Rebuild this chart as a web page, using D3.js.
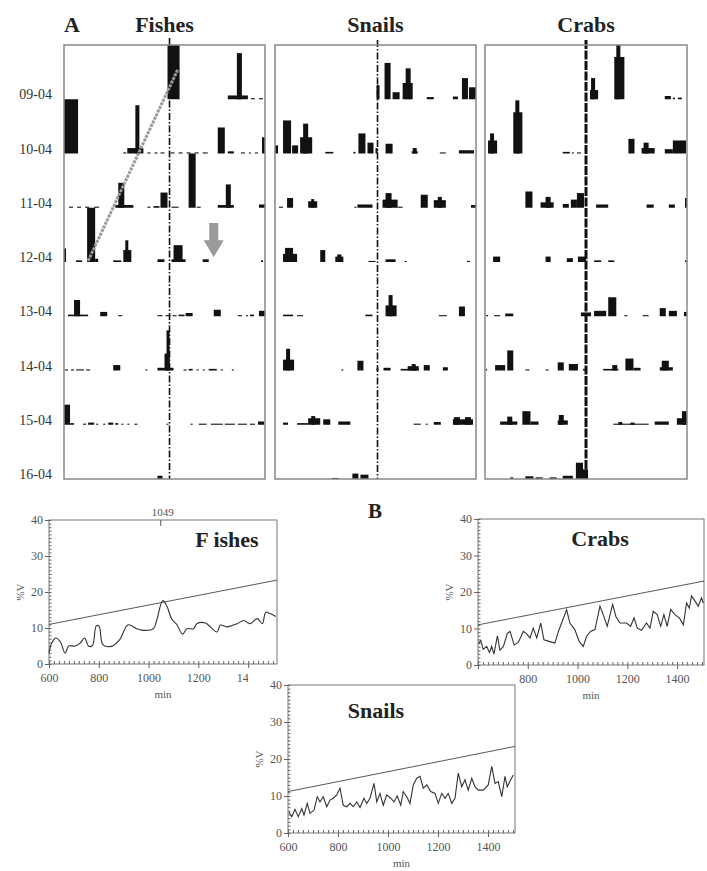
<!DOCTYPE html>
<html>
<head>
<meta charset="utf-8">
<script src="https://cdn.jsdelivr.net/npm/d3@7"></script>
<style>
  body { margin: 0; background: #fff; }
  svg { display: block; font-family: "Liberation Serif", "DejaVu Serif", serif; }
</style>
</head>
<body>
<div id="chart"></div>
<script>
// ---- panel A: actograms, one row per day, bars as [fromBin, toBin, height(0..1)]
const days = ["09-04", "10-04", "11-04", "12-04", "13-04", "14-04", "15-04", "16-04"];

const fishAct = [
  [[51.5, 57.5, 1], [81.5, 91.5, 0.07], [86, 88.5, 0.85], [93, 95, 0.02], [97, 99, 0.02]],
  [[0, 7, 1], [29.5, 31, 0.02], [31.5, 39.5, 0.1], [35.5, 37.5, 0.89], [41.5, 43, 0.02], [45, 46.5, 0.02], [48, 50, 0.02],
   [53, 55, 0.02], [57, 59, 0.02], [61, 63, 0.02], [65, 67, 0.02], [69, 71.5, 0.02], [76.5, 80, 0.48], [81.5, 84.5, 0.04],
   [88, 90, 0.02], [92, 93, 0.02], [95, 96.5, 0.02], [98.5, 100.5, 0.3]],
  [[2.5, 4.5, 0.02], [6.5, 8.5, 0.02], [10.5, 12.5, 0.02], [15, 17.5, 0.02], [25.5, 34.5, 0.05], [27, 30, 0.46],
   [41.5, 43, 0.02], [44.5, 47.5, 0.03], [48, 51.5, 0.28], [53.5, 57, 0.02], [62, 65.5, 1], [66, 68, 0.02],
   [76.5, 84.5, 0.05], [80.5, 83, 0.43], [97, 100.5, 0.06]],
  [[0, 1, 0.25], [6, 9, 0.03], [11.5, 15.5, 1], [15.5, 17, 0.06], [24.5, 28.5, 0.03], [29.5, 33.5, 0.22], [30.5, 32, 0.4],
   [46.5, 50, 0.05], [53.5, 60.5, 0.05], [54.5, 59, 0.31], [69, 72, 0.05], [98, 99, 0.03]],
  [[2, 12, 0.03], [5, 8, 0.3], [18, 21.5, 0.08], [27, 29, 0.02], [46.5, 49, 0.02], [50.5, 53, 0.02], [54, 56, 0.02],
   [57, 60, 0.03], [60.5, 64, 0.06], [74.5, 78, 0.12], [86.5, 88.5, 0.02], [90.5, 91.5, 0.02], [92.5, 94.5, 0.03],
   [97, 100.5, 0.1]],
  [[0.5, 2, 0.02], [3.5, 5, 0.02], [6, 10, 0.02], [11, 13, 0.02], [24.5, 28, 0.1], [40.5, 41.5, 0.02],
   [46.5, 54.5, 0.05], [50, 52.5, 0.31], [51, 52.5, 0.74], [59.5, 61, 0.02], [62, 64, 0.03], [66, 67, 0.02],
   [69, 70, 0.02], [72, 76, 0.03], [78, 79, 0.02], [83.5, 84.5, 0.02]],
  [[0, 3, 0.37], [3, 5, 0.03], [9.5, 11, 0.02], [12, 15, 0.04], [16, 17, 0.02], [19.5, 20.5, 0.02], [22, 24.5, 0.04],
   [25.5, 27, 0.03], [28.5, 29.5, 0.02], [31.5, 32.5, 0.02], [35, 36.5, 0.02], [51, 52, 0.02], [63, 64, 0.02],
   [67, 71, 0.02], [73, 79, 0.02], [80, 85, 0.02], [86.5, 91, 0.02], [92.5, 95, 0.02], [96.5, 99.5, 0.06]],
  [[46.5, 49, 0.06]]
];

const snailAct = [
  [[50.5, 52, 0.26], [54.5, 57.5, 0.67], [58.5, 62, 0.13], [63.5, 68.5, 0.3], [65, 67.5, 0.57], [75.5, 79, 0.04],
   [88.5, 91, 0.05], [93, 96, 0.39], [96.5, 100, 0.22]],
  [[0, 1.5, 0.15], [4, 8, 0.61], [8.5, 11.5, 0.15], [12.5, 18.5, 0.3], [14, 16.5, 0.55], [25, 29, 0.03], [39, 40, 0.03],
   [41.5, 45, 0.37], [46, 49, 0.2], [50, 51, 0.1], [55, 58.5, 0.18], [68, 71, 0.04], [68.5, 70.5, 0.1],
   [82, 85, 0.02], [91.5, 99, 0.06]],
  [[2, 4, 0.02], [6, 9, 0.18], [16.5, 21, 0.12], [18, 19.5, 0.16], [39.5, 40.5, 0.02], [41, 48.5, 0.06],
   [53.5, 61, 0.15], [55, 58, 0.27], [61, 63.5, 0.02], [72.5, 76, 0.24], [79, 85, 0.14], [81, 83, 0.2], [97.5, 100, 0.05]],
  [[4, 11, 0.15], [5, 9, 0.26], [22.5, 25, 0.22], [30, 34, 0.1], [31, 33, 0.14], [46.5, 50, 0.02], [55, 60, 0.05],
   [64.5, 65.5, 0.02], [95.5, 97, 0.02]],
  [[4, 9, 0.03], [11, 14, 0.02], [45, 48.5, 0.03], [55, 60.5, 0.2], [56.5, 58.5, 0.39], [81.5, 85.5, 0.02], [91.5, 94.5, 0.18]],
  [[4, 9.5, 0.2], [5.5, 7.5, 0.4], [33, 34, 0.02], [41, 44, 0.18], [50.5, 51.5, 0.04], [54, 57.5, 0.05],
   [62.5, 71.5, 0.03], [66, 71.5, 0.08], [68, 70, 0.12], [74, 77, 0.1], [83.5, 86, 0.06]],
  [[4, 6.5, 0.04], [11, 16.5, 0.03], [16.5, 22.5, 0.12], [18, 20, 0.16], [24, 27.5, 0.1], [31.5, 37.5, 0.06],
   [69, 72.5, 0.02], [75, 76, 0.02], [79, 82.5, 0.05], [88.5, 98.5, 0.1], [89, 92, 0.14], [94.5, 97.5, 0.14]],
  [[28.5, 31.5, 0.02], [38.5, 41.5, 0.1], [42.5, 46.5, 0.08]]
];

const crabAct = [
  [[52, 56, 0.17], [52.5, 54.5, 0.39], [64, 69, 0.78], [65, 67, 1], [89, 92, 0.06], [93, 94, 0.03], [95.5, 97.5, 0.03]],
  [[1.5, 6, 0.24], [2.5, 4.5, 0.37], [14, 18.5, 0.76], [15, 17, 0.98], [38.5, 42, 0.03], [43, 44, 0.02], [45.5, 47.5, 0.02],
   [71, 74, 0.27], [77.5, 84, 0.1], [78.5, 81, 0.2], [89, 93, 0.08], [93, 99.5, 0.24]],
  [[20, 23.5, 0.3], [27.5, 34, 0.1], [30, 32.5, 0.2], [38.5, 41.5, 0.07], [42.5, 45.5, 0.15], [45.5, 49, 0.27],
   [55, 61, 0.06], [80, 83.5, 0.06], [91, 94, 0.06], [99, 101, 0.18]],
  [[4, 7.5, 0.1], [30, 32.5, 0.1], [40.5, 43.5, 0.07], [46, 50, 0.1], [54, 57.5, 0.03], [61, 64, 0.03], [99, 100, 0.03]],
  [[0.5, 1.5, 0.02], [4.5, 7.5, 0.02], [10, 14, 0.05], [47.5, 52.5, 0.07], [54, 60, 0.1], [61, 65, 0.35],
   [69, 70.5, 0.02], [78, 81, 0.02], [86.5, 89.5, 0.15], [91, 95, 0.1], [98.5, 101, 0.08]],
  [[0.5, 1, 0.03], [5, 10, 0.1], [11, 14, 0.37], [20, 22, 0.02], [30, 31.5, 0.02], [36, 39, 0.15], [41.5, 46, 0.12],
   [48.5, 50.5, 0.03], [58.5, 66, 0.03], [63, 65.5, 0.1], [69.5, 73.5, 0.22], [73.5, 77, 0.05], [86.5, 93, 0.06],
   [87.5, 91, 0.18]],
  [[7.5, 16, 0.06], [11, 13.5, 0.15], [18.5, 22.5, 0.25], [22.5, 26.5, 0.06], [36, 41, 0.08], [36.5, 39, 0.18],
   [63.5, 81, 0.02], [66, 68, 0.05], [72, 74, 0.04], [84, 91, 0.06], [95, 100, 0.12], [97.5, 100, 0.25]],
  [[12.5, 14, 0.03], [20, 24, 0.05], [25, 28.5, 0.03], [32, 35.5, 0.03], [38.5, 43.5, 0.06], [45, 48.5, 0.3],
   [48.5, 51, 0.18]]
];

// bin of the vertical dash-dot marker in each actogram
const markBins = [52.5, 51, 50];

// ---- panel B: %V against time (min), plus the threshold line
const fishPct = [[600, 3.0], [611, 5.8], [627, 7.2], [645, 6.2], [665, 3.0], [679, 5.0], [705, 5.0], [725, 5.8],
  [743, 7.2], [760, 4.9], [775, 5.2], [790, 10.6], [801, 10.5], [817, 5.3], [850, 4.9], [884, 6.8], [918, 10.9],
  [952, 9.8], [972, 9.4], [1019, 9.8], [1032, 12], [1057, 17.6], [1073, 16.2], [1093, 12.5], [1113, 11],
  [1137, 8.3], [1154, 9.8], [1181, 9.8], [1194, 11.2], [1228, 11.4], [1275, 8.9], [1288, 10.8], [1315, 10.3],
  [1356, 11.2], [1383, 12.1], [1407, 11.2], [1437, 12.6], [1457, 11.2], [1471, 14.4], [1488, 14], [1511, 13.2]];

const crabPct = [[603, 6.0], [611, 6.7], [621, 4.3], [635, 5.1], [646, 3.4], [655, 5.1], [664, 3.0], [678, 8.0],
  [688, 4.1], [702, 5.1], [718, 8.7], [729, 9.2], [745, 5.5], [762, 6.2], [782, 9.2], [795, 8.6], [809, 7.4],
  [822, 10.1], [836, 7.4], [852, 11.5], [865, 6.9], [889, 6.4], [909, 6.0], [923, 9.2], [936, 11.5], [956, 15.2],
  [969, 11.5], [989, 9.7], [1007, 6.4], [1023, 5.1], [1036, 7.8], [1052, 9.2], [1070, 9.7], [1090, 16.1],
  [1103, 13.8], [1119, 10.6], [1141, 16.6], [1154, 13.3], [1170, 11.5], [1197, 11.5], [1213, 10.6], [1227, 12.9],
  [1240, 10.1], [1257, 9.5], [1277, 11.5], [1291, 10.1], [1304, 14.7], [1320, 13.8], [1334, 10.6], [1347, 13.8],
  [1360, 10.6], [1374, 15.2], [1391, 13.8], [1409, 12.9], [1425, 11.0], [1438, 17.0], [1449, 15.6], [1458, 18.9],
  [1472, 17.5], [1485, 16.1], [1498, 18.4], [1505, 17.0]];

const snailPct = [[604, 5.7], [615, 4.4], [628, 6.4], [641, 4.4], [655, 6.6], [664, 4.8], [677, 8.0], [688, 5.3],
  [704, 6.2], [717, 9.8], [728, 8.4], [741, 9.8], [755, 7.1], [768, 8.9], [781, 9.4], [795, 10.3], [808, 12.1],
  [821, 7.5], [835, 7.1], [848, 8.0], [861, 7.1], [875, 8.4], [888, 6.9], [904, 9.4], [915, 8.0], [928, 9.4],
  [944, 13.4], [955, 8.4], [968, 10.7], [981, 7.5], [995, 10.3], [1011, 9.4], [1024, 8.4], [1037, 10.0],
  [1051, 7.5], [1061, 11.2], [1075, 9.8], [1088, 8.0], [1101, 13.0], [1115, 14.8], [1128, 15.3], [1141, 12.1],
  [1155, 13.0], [1171, 11.2], [1188, 10.7], [1201, 8.0], [1215, 10.7], [1228, 9.4], [1241, 10.7], [1255, 8.0],
  [1268, 9.4], [1281, 16.2], [1295, 12.5], [1308, 14.4], [1321, 11.6], [1335, 14.8], [1348, 12.5], [1361, 11.6],
  [1381, 11.6], [1401, 13.0], [1415, 18.0], [1428, 13.4], [1441, 13.9], [1455, 9.8], [1468, 15.3], [1477, 12.5],
  [1491, 14.4], [1501, 15.7]];

const fishTrend = [[600, 11], [1516, 23.3]];
const crabTrend = [[600, 11], [1508, 23]];
const snailTrend = [[600, 11.2], [1508, 23.4]];

const yTicks = [0, 10, 20, 30, 40];
const xTicks = [600, 800, 1000, 1200, 1400];
const peakMark = 1049;

// ---------------------------------------------------------------------------
const svg = d3.select("#chart").append("svg").attr("width", 707).attr("height", 871);

const rowY = d3.scaleLinear().domain([0, days.length]).range([45, 479]);
const barH = d3.scaleLinear().domain([0, 1]).range([0, rowY(1) - rowY(0)]);

const panelsA = [
  { title: "Fishes", acts: fishAct, x0: 64, x1: 265, markTop: 38, markW: 1.6, dash: "7,2,1.5,2" },
  { title: "Snails", acts: snailAct, x0: 275, x1: 476, markTop: 40, markW: 1.6, dash: "7,2,1.5,2" },
  { title: "Crabs", acts: crabAct, x0: 485, x1: 687, markTop: 40, markW: 3, dash: "9,1.5" }
];

svg.append("text").attr("x", 64).attr("y", 32).attr("font-size", 22).attr("font-weight", "bold")
  .attr("fill", "#222").text("A");

panelsA.forEach((p, pi) => {
  const x = d3.scaleLinear().domain([0, 100]).range([p.x0, p.x1]);
  const g = svg.append("g");

  g.append("text").attr("x", (p.x0 + p.x1) / 2).attr("y", 32).attr("text-anchor", "middle")
    .attr("font-size", 22).attr("font-weight", "bold").attr("fill", "#222").text(p.title);

  p.acts.forEach((row, i) => {
    const base = rowY(i + 1);
    g.selectAll(null).data(row).enter().append("rect")
      .attr("x", (d) => x(d[0]))
      .attr("width", (d) => Math.max(x(Math.min(d[1], 100)) - x(d[0]), 1))
      .attr("y", (d) => base - Math.max(barH(d[2]), 1))
      .attr("height", (d) => Math.max(barH(d[2]), 1))
      .attr("fill", "#111");
  });

  g.append("line")
    .attr("x1", x(markBins[pi])).attr("x2", x(markBins[pi]))
    .attr("y1", p.markTop).attr("y2", rowY(days.length))
    .attr("stroke", "#111").attr("stroke-width", p.markW).attr("stroke-dasharray", p.dash);

  g.append("rect")
    .attr("x", p.x0).attr("y", rowY(0))
    .attr("width", p.x1 - p.x0).attr("height", rowY(days.length) - rowY(0))
    .attr("fill", "none").attr("stroke", "#888").attr("stroke-width", 1.5);

  if (pi === 0) {
    // day labels
    g.selectAll("text.day").data(days).enter().append("text")
      .attr("class", "day")
      .attr("x", 52).attr("y", (d, i) => rowY(i + 1))
      .attr("text-anchor", "end").attr("font-size", 14).attr("fill", "#333")
      .text((d) => d);

    // grey dashed phase line and the down arrow
    g.append("line")
      .attr("x1", x(12)).attr("y1", rowY(4) - barH(0.02))
      .attr("x2", x(56.5)).attr("y2", rowY(1) - barH(0.54))
      .attr("stroke", "#9a9a9a").attr("stroke-width", 3).attr("stroke-dasharray", "3,1");

    const ax = x(74.5), b4 = rowY(4);
    const arrow = d3.path();
    arrow.moveTo(ax - 4.5, b4 - barH(0.72));
    arrow.lineTo(ax + 4.5, b4 - barH(0.72));
    arrow.lineTo(ax + 4.5, b4 - barH(0.4));
    arrow.lineTo(ax + 10, b4 - barH(0.4));
    arrow.lineTo(ax, b4 - barH(0.09));
    arrow.lineTo(ax - 10, b4 - barH(0.4));
    arrow.lineTo(ax - 4.5, b4 - barH(0.4));
    arrow.closePath();
    g.append("path").attr("d", arrow.toString()).attr("fill", "#9a9a9a");
  }
});

// ---------------------------------------------------------------------------
svg.append("text").attr("x", 368).attr("y", 518).attr("font-size", 21).attr("font-weight", "bold")
  .attr("fill", "#222").text("B");

const drawLine = (c) => {
  const g = svg.append("g");
  const x = d3.scaleLinear().domain([600, c.xMax]).range([c.left, c.right]);
  const y = d3.scaleLinear().domain([0, 40]).range([c.bottom, c.top]);

  g.append("rect").attr("x", c.left).attr("y", c.top)
    .attr("width", c.right - c.left).attr("height", c.bottom - c.top)
    .attr("fill", "#fff").attr("stroke", "#777").attr("stroke-width", 1);

  // major + minor ticks
  const yMaj = g.append("g").attr("transform", `translate(${c.left},0)`)
    .call(d3.axisLeft(y).tickValues(yTicks).tickSize(4).tickPadding(2).tickFormat(d3.format("d")));
  const yMin = g.append("g").attr("transform", `translate(${c.left},0)`)
    .call(d3.axisRight(y).tickValues(d3.range(0, 41, 1)).tickSize(2.5).tickFormat(""));
  const xMaj = g.append("g").attr("transform", `translate(0,${c.bottom})`)
    .call(d3.axisBottom(x).tickValues(xTicks).tickSize(4).tickPadding(5).tickFormat(d3.format("d")));
  const xMin = g.append("g").attr("transform", `translate(0,${c.bottom})`)
    .call(d3.axisTop(x).tickValues(d3.range(600, c.xMax, 20)).tickSize(3).tickFormat(""));
  [yMaj, yMin, xMaj, xMin].forEach((a) => {
    a.select(".domain").remove();
    a.selectAll("line").attr("stroke", "#666");
    a.selectAll("text").attr("font-family", "Liberation Serif, serif").attr("font-size", 12).attr("fill", "#555");
  });

  g.append("path").datum(c.trend)
    .attr("d", d3.line().x((d) => x(d[0])).y((d) => y(d[1])))
    .attr("fill", "none").attr("stroke", "#444").attr("stroke-width", 0.9);

  g.append("path").datum(c.data)
    .attr("d", d3.line().curve(c.curve).x((d) => x(d[0])).y((d) => y(d[1])))
    .attr("fill", "none").attr("stroke", "#333").attr("stroke-width", 1.1);

  g.append("text").attr("x", c.titleX).attr("y", c.titleY).attr("text-anchor", "middle")
    .attr("font-size", 22).attr("font-weight", "bold").attr("fill", "#222").text(c.title);

  g.append("text")
    .attr("transform", `translate(${c.left - 25},${(c.top + c.bottom) / 2}) rotate(-90)`)
    .attr("text-anchor", "middle").attr("font-size", 11).attr("fill", "#555").text("%V");

  g.append("text").attr("x", (c.left + c.right) / 2).attr("y", c.bottom + 34)
    .attr("text-anchor", "middle").attr("font-size", 11).attr("fill", "#555").text("min");

  if (c.peak) {
    g.append("line").attr("x1", x(c.peak)).attr("x2", x(c.peak))
      .attr("y1", c.top).attr("y2", c.top + 6).attr("stroke", "#555");
    g.append("text").attr("x", x(c.peak) + 2).attr("y", c.top - 4).attr("text-anchor", "middle")
      .attr("font-size", 11).attr("fill", "#555").text(c.peak);
  }
};

drawLine({ title: "F ishes", data: fishPct, trend: fishTrend, curve: d3.curveCatmullRom,
  left: 49, right: 277, top: 520, bottom: 664, xMax: 1516, titleX: 227, titleY: 547, peak: peakMark });
drawLine({ title: "Crabs", data: crabPct, trend: crabTrend, curve: d3.curveLinear,
  left: 478, right: 704, top: 519, bottom: 665, xMax: 1508, titleX: 600, titleY: 546 });

// the snails graph sits on a white card that hides part of its neighbours' labels
svg.append("rect").attr("x", 248).attr("y", 669).attr("width", 265).attr("height", 202).attr("fill", "#fff");
svg.append("path").attr("d", "M420,687H513V702").attr("fill", "none").attr("stroke", "#777");

drawLine({ title: "Snails", data: snailPct, trend: snailTrend, curve: d3.curveLinear,
  left: 288, right: 515, top: 685, bottom: 833, xMax: 1508, titleX: 376, titleY: 718 });
</script>
</body>
</html>
